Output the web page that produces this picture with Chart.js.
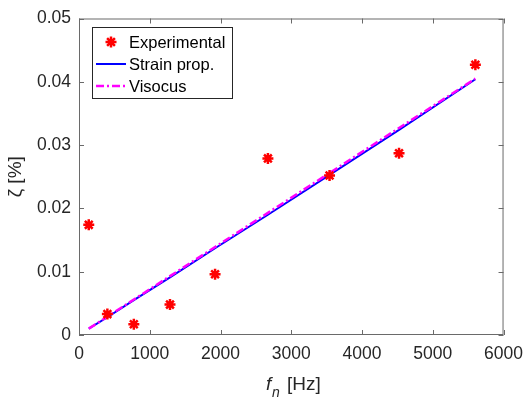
<!DOCTYPE html>
<html>
<head>
<meta charset="utf-8">
<script src="https://cdn.jsdelivr.net/npm/chart.js@4.4.1/dist/chart.umd.min.js"></script>
<style>
  html, body { margin: 0; padding: 0; background: #fff; }
  #wrap { width: 532px; height: 402px; }
</style>
</head>
<body>
<div id="wrap"><canvas id="graph-box" width="532" height="402"></canvas></div>
<script>
// measured natural frequencies [Hz] and damping ratios
const freqs = [138, 401, 775, 1286, 1923, 2670, 3541, 4523, 5602];
const zetaExp = [0.0174, 0.0033, 0.0017, 0.0048, 0.0096, 0.0279, 0.0252, 0.0287, 0.0427];
// fitted models at the same frequencies
const zetaStrain = [0.0010, 0.0028, 0.0055, 0.0091, 0.0137, 0.0190, 0.0253, 0.0324, 0.0404];
const zetaVisc = [0.0010, 0.0029, 0.0056, 0.0093, 0.0139, 0.0193, 0.0256, 0.0327, 0.0405];

const xTicks = ['0', '1000', '2000', '3000', '4000', '5000', '6000'];
const yTicks = ['0', '0.01', '0.02', '0.03', '0.04', '0.05'];
const seriesNames = ['Experimental', 'Strain prop.', 'Visocus'];

const axisCol = '#262626';
const tickFont = '"Liberation Sans", Arial, sans-serif';

const pts = (xs, ys) => xs.map((x, i) => ({ x: x, y: ys[i] }));

// box + inward ticks + legend + axis titles, MATLAB style
const matlabAxes = {
  id: 'matlabAxes',
  afterDraw(chart) {
    const ctx = chart.ctx;
    const a = chart.chartArea;
    const xs = chart.scales.x, ys = chart.scales.y;
    ctx.save();
    ctx.strokeStyle = '#6a6a6a';
    ctx.lineWidth = 1;
    ctx.strokeRect(a.left + 0.5, a.top + 0.5, a.right - a.left - 1, a.bottom - a.top - 1);
    ctx.beginPath();
    xs.ticks.forEach(t => {
      const px = Math.round(xs.getPixelForValue(t.value)) + 0.5;
      ctx.moveTo(px, a.bottom); ctx.lineTo(px, a.bottom - 5);
      ctx.moveTo(px, a.top); ctx.lineTo(px, a.top + 5);
    });
    ys.ticks.forEach(t => {
      const py = Math.round(ys.getPixelForValue(t.value)) + 0.5;
      ctx.moveTo(a.left, py); ctx.lineTo(a.left + 5, py);
      ctx.moveTo(a.right, py); ctx.lineTo(a.right - 5, py);
    });
    ctx.stroke();

    // legend
    const lx = 92, ly = 27, lw = 140, lh = 71;
    ctx.fillStyle = '#fff';
    ctx.fillRect(lx, ly, lw, lh);
    ctx.strokeStyle = axisCol;
    ctx.strokeRect(lx + 0.5, ly + 0.5, lw, lh);
    const rows = [42, 64, 86];
    ctx.font = '16.5px ' + tickFont;
    ctx.textBaseline = 'middle';
    ctx.fillStyle = '#000';
    seriesNames.forEach((s, i) => ctx.fillText(s, 129, rows[i] + 1));
    const ds = chart.data.datasets;
    // marker sample
    ctx.save();
    ctx.strokeStyle = ds[0].borderColor;
    ctx.fillStyle = ds[0].borderColor;
    ctx.lineWidth = 2.5;
    Chart.helpers.drawPoint(ctx, { pointStyle: 'star', radius: 5.5, borderWidth: 2.5 }, 111, rows[0]);
    ctx.restore();
    ctx.lineWidth = 2;
    ctx.strokeStyle = ds[1].borderColor;
    ctx.beginPath(); ctx.moveTo(96, rows[1]); ctx.lineTo(126, rows[1]); ctx.stroke();
    ctx.lineWidth = 2.5;
    ctx.strokeStyle = ds[2].borderColor;
    ctx.setLineDash(ds[2].borderDash);
    ctx.beginPath(); ctx.moveTo(96, rows[2]); ctx.lineTo(126, rows[2]); ctx.stroke();
    ctx.setLineDash([]);

    // x title: f_n [Hz]
    ctx.fillStyle = axisCol;
    ctx.textBaseline = 'alphabetic';
    ctx.textAlign = 'left';
    ctx.font = 'italic 19px ' + tickFont;
    ctx.fillText('f', 266, 390);
    ctx.font = 'italic 14px ' + tickFont;
    ctx.fillText('n', 272, 397);
    ctx.font = '19px ' + tickFont;
    ctx.fillText('[Hz]', 287, 390);

    // y title: zeta [%]
    ctx.translate(21, (a.top + a.bottom) / 2);
    ctx.rotate(-Math.PI / 2);
    ctx.textAlign = 'center';
    ctx.font = '19px ' + tickFont;
    ctx.fillText('\u03B6 [%]', 0, 0);
    ctx.restore();
  }
};

new Chart(document.getElementById('graph-box'), {
  type: 'scatter',
  data: {
    datasets: [
      {
        label: seriesNames[0],
        data: pts(freqs, zetaExp),
        pointStyle: 'star',
        pointRadius: 5.5,
        pointBorderWidth: 2.5,
        borderColor: '#ff0000',
        backgroundColor: '#ff0000',
        showLine: false,
        order: 0
      },
      {
        label: seriesNames[1],
        data: pts(freqs, zetaStrain),
        showLine: true,
        pointRadius: 0,
        borderColor: '#0000ff',
        borderWidth: 2,
        order: 2
      },
      {
        label: seriesNames[2],
        data: pts(freqs, zetaVisc),
        showLine: true,
        pointRadius: 0,
        borderColor: '#ff00ff',
        borderWidth: 2.5,
        borderDash: [8, 3, 2, 3],
        order: 1
      }
    ]
  },
  options: {
    responsive: false,
    animation: false,
    layout: { padding: { top: 14, right: 19, left: 0, bottom: 0 } },
    plugins: { legend: { display: false }, tooltip: { enabled: false } },
    scales: {
      x: {
        type: 'linear', min: 0, max: 6000,
        grid: { display: false, drawTicks: false },
        border: { display: false },
        ticks: {
          stepSize: 1000, padding: 9, color: axisCol, maxRotation: 0,
          font: { family: tickFont, size: 17.5 },
          callback: (v) => xTicks[Math.round(v / 1000)]
        },
        afterFit: (s) => { s.height = 67; }
      },
      y: {
        type: 'linear', min: 0, max: 0.05,
        grid: { display: false, drawTicks: false },
        border: { display: false },
        ticks: {
          stepSize: 0.01, padding: 8, color: axisCol,
          font: { family: tickFont, size: 17.5 },
          callback: (v) => yTicks[Math.round(v / 0.01)]
        },
        afterFit: (s) => { s.width = 79; }
      }
    }
  },
  plugins: [matlabAxes]
});
</script>
</body>
</html>
